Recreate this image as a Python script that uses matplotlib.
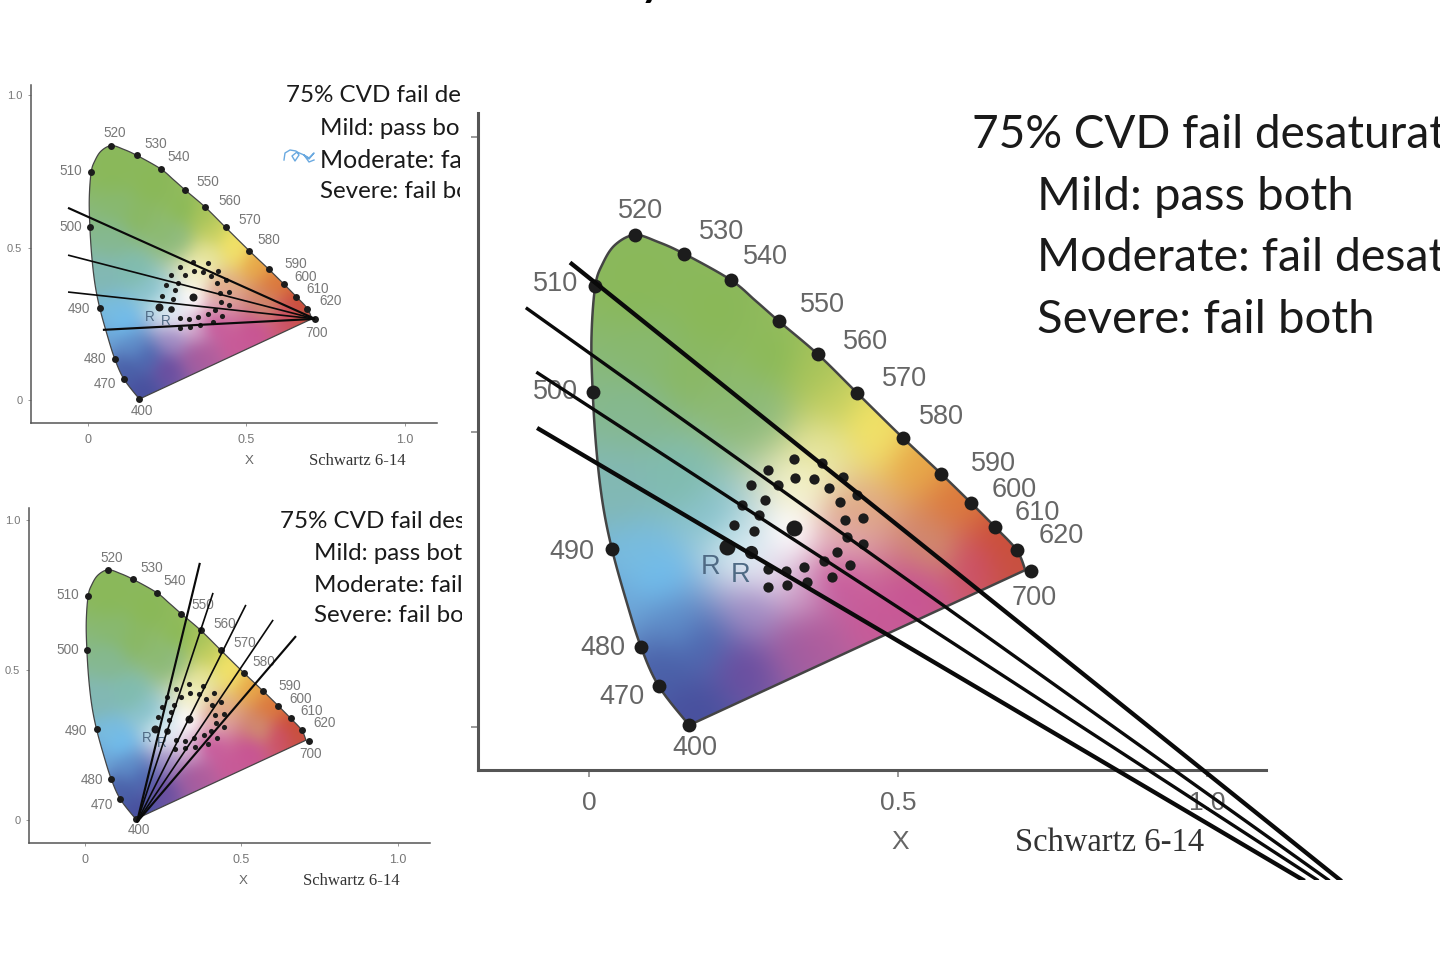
import numpy as np
import matplotlib
matplotlib.use("Agg")
import matplotlib.pyplot as plt
from matplotlib.lines import Line2D
from matplotlib.patches import Polygon
from matplotlib.transforms import Bbox

W, H = 1440, 961

# spectral locus, labelled wavelengths
wavelengths = ["400", "470", "480", "490", "500", "510", "520", "530", "540",
               "550", "560", "570", "580", "590", "600", "610", "620", "700"]
spectral_x = [.162, .113, .084, .037, .006, .010, .074, .154, .229,
              .307, .370, .434, .508, .570, .618, .657, .692, .716]
spectral_y = [.003, .069, .136, .302, .567, .747, .834, .802, .758,
              .688, .632, .566, .490, .429, .380, .339, .300, .264]
label_x = [.171, .053, .023, -.028, -.054, -.054, .084, .214, .286,
           .377, .447, .510, .571, .655, .688, .725, .764, .720]
label_y = [-.035, .051, .134, .297, .568, .751, .875, .839, .797,
           .716, .653, .589, .525, .446, .402, .363, .324, .219]

# gamut outline
outline_x = [.162, .113, .084, .060, .037, .022, .012, .006, .004, .010, .022, .042, .074, .112,
             .154, .229, .270, .307, .370, .434, .508, .570, .618, .657, .692, .706]
outline_y = [.003, .069, .136, .215, .302, .380, .470, .567, .660, .747, .785, .817, .834, .822,
             .802, .758, .722, .688, .632, .566, .490, .429, .380, .339, .300, .266]

# colour field samples
field_x = [.08, .20, .30, .15, .25, .10, .36, .40, .27, .08, .143, .08, .11, .143, .18, .25, .335,
           .46, .53, .27, .335, .17, .12, .45, .47, .38, .53, .60, .66, .69, .62, .33, .26, .30,
           .40, .35, .20, .23, .42, .05, .03, .56, .40, .36]
field_y = [.75, .70, .62, .60, .55, .62, .60, .55, .54, .54, .42, .29, .26, .17, .14, .10, .14,
           .18, .23, .20, .23, .03, .10, .52, .49, .47, .45, .38, .32, .28, .28, .33, .28, .25,
           .31, .41, .35, .32, .36, .40, .20, .30, .25, .15]
field_c = ["#8ab85a", "#8ab858", "#8cba58", "#8ab864", "#8cba70", "#88b870", "#a8c45a", "#c4cf60", "#8fbb80",
           "#85b890", "#80bcb0", "#78bce0", "#70bcec", "#5e8cc8", "#4e68b0", "#6a4ea0", "#a05ca0",
           "#c85a98", "#c85494", "#a08cc4", "#d0a0c8", "#48509e", "#4a60a8", "#f0e264", "#f2e06a", "#e6e49a",
           "#e8a848", "#dc7a3c", "#cc5038", "#c85040", "#cc5068", "#ffffff", "#e2eef6", "#e6d8ea",
           "#dfa8b8", "#f3f2c8", "#88c2cc", "#c4e2ea", "#e0a888", "#82b8b4", "#6ea6d8", "#d08a70", "#c8589a", "#b05c9c"]

# observer results
dots_x = [.332, .377, .290, .334, .364, .411, .262, .306, .388, .285, .434, .406, .247, .275, .415, .444,
          .234, .267, .418, .444, .402, .380, .423, .348, .290, .319, .393, .289, .321, .352]
dots_y = [.454, .448, .436, .422, .421, .423, .410, .410, .405, .385, .394, .382, .377, .360, .351, .355,
          .342, .332, .322, .311, .296, .282, .275, .272, .268, .265, .255, .237, .240, .245]
big_x = [.332, .223]
big_y = [.338, .305]
mid_x = [.262]
mid_y = [.297]
r_x = [.196, .246]
r_y = [.272, .258]

# confusion lines: (x0, y0, x1, y1)
main_lines = [(-.028, .785, 1.215, -.259), (-.100, .709, 1.196, -.259),
              (-.083, .600, 1.178, -.259), (-.081, .505, 1.155, -.259)]
top_lines = [(-.063, .630, .716, .266), (-.063, .475, .716, .266),
             (-.063, .354, .716, .266), (.047, .230, .716, .266)]
bottom_lines = [(.166, -.007, .367, .857), (.166, -.007, .409, .757), (.166, -.007, .514, .717),
                (.166, -.007, .601, .667), (.166, -.007, .674, .613)]

text_lines = ["75% CVD fail desaturated", "Mild: pass both", "Moderate: fail desaturated", "Severe: fail both"]

ink_x = [284, 285, 290, 296, 299, 295, 292, 297, 304, 309, 314, 309, 304, 309, 314]
ink_y = [160, 153, 150, 151, 155, 161, 156, 152, 155, 159, 153, 158, 155, 162, 160]


def blur(img, sigma):
    r = int(3 * sigma)
    k = np.exp(-np.arange(-r, r + 1) ** 2 / (2 * sigma ** 2))
    k /= k.sum()
    for axis in (0, 1):
        pad = [(r, r) if a == axis else (0, 0) for a in range(3)]
        img = np.apply_along_axis(lambda v: np.convolve(v, k, mode="valid"), axis, np.pad(img, pad, mode="edge"))
    return img


def gamut_image(res=300):
    gx = np.linspace(-.02, .74, res)
    gy = np.linspace(-.02, .86, res)
    xx, yy = np.meshgrid(gx, gy)
    fx, fy = np.array(field_x), np.array(field_y)
    rgb = np.array([matplotlib.colors.to_rgb(c) for c in field_c])
    d = (xx[..., None] - fx) ** 2 + (yy[..., None] - fy) ** 2
    w = 1 / (d + 1e-4) ** 2
    img = (w[..., None] * rgb).sum(axis=2) / w.sum(axis=2, keepdims=True)
    return blur(img, 8), (gx[0], gx[-1], gy[0], gy[-1])


def smooth(x, y, n=8):
    # Catmull-Rom through the outline points
    p = np.column_stack([x, y])
    p = np.vstack([p[0], p, p[-1]])
    out = []
    for i in range(1, len(p) - 2):
        for t in np.linspace(0, 1, n, endpoint=False):
            out.append(.5 * (2 * p[i] + (p[i + 1] - p[i - 1]) * t
                             + (2 * p[i - 1] - 5 * p[i] + 4 * p[i + 1] - p[i + 2]) * t ** 2
                             + (3 * p[i] - p[i - 1] - 3 * p[i + 1] + p[i + 2]) * t ** 3))
    out.append(p[-2])
    return np.array(out)


IMG, EXTENT = gamut_image()
OUTLINE = smooth(outline_x, outline_y)


def px_text(fig, x, y, s, **kw):
    return fig.text(x / W, 1 - y / H, s, **kw)


def panel(fig, left, right, top, bottom, x0, x1, y0, y1, lines, scale, yticklabels=True, cut=None):
    ax = fig.add_axes([left / W, 1 - bottom / H, (right - left) / W, (bottom - top) / H])
    ax.patch.set_alpha(0)
    ux = (x1 - x0)
    uy = (y0 - y1)
    ax.set_xlim((left - x0) / ux, (right - x0) / ux)
    ax.set_ylim((y0 - bottom) / uy, (y0 - top) / uy)

    im = ax.imshow(IMG, extent=EXTENT, origin="lower", aspect="auto", interpolation="bilinear", zorder=1)
    poly = Polygon(OUTLINE, closed=True, transform=ax.transData,
                   facecolor="none", edgecolor="#444444", linewidth=1.8 * scale, zorder=2)
    ax.add_patch(poly)
    im.set_clip_path(poly)

    ink = "#1c1c1c"
    ax.plot(spectral_x, spectral_y, "o", color=ink, ms=10 * scale, mew=0, zorder=3, clip_on=False)
    ax.plot(dots_x, dots_y, "o", color=ink, ms=7.4 * scale, mew=0, zorder=3)
    ax.plot(big_x, big_y, "o", color=ink, ms=11.5 * scale, mew=0, zorder=3)
    ax.plot(mid_x, mid_y, "o", color=ink, ms=9.5 * scale, mew=0, zorder=3)

    grey = "#666666" if scale == 1 else "#777777"
    for lx, ly, s in zip(label_x, label_y, wavelengths):
        ax.text(lx, ly, s, ha="center", va="center", color=grey, fontsize=19.5 * scale,
                family="Liberation Sans", zorder=4, clip_on=False)
    for lx, ly in zip(r_x, r_y):
        ax.text(lx, ly, "R", ha="center", va="center", color="#4f6a84", fontsize=19.5 * scale,
                family="Liberation Sans", zorder=4)

    for i, (a, b, c, d) in enumerate(lines):
        lw = 3.1 if i in (0, len(lines) - 1) else 2.4
        ln, = ax.plot([a, c], [b, d], color="#0a0a0a", lw=lw * scale, zorder=5, clip_on=False,
                      solid_capstyle="butt")
        if cut is not None:
            # flat lower end where the lines leave the slide image
            ln.set_solid_capstyle("projecting")
            ln.set_clip_on(True)
            ln.set_clip_box(Bbox([[0, H - cut], [W, H]]))

    for s in ("top", "right"):
        ax.spines[s].set_visible(False)
    for s in ("left", "bottom"):
        ax.spines[s].set_color("#555555")
        ax.spines[s].set_linewidth(2.2 * scale)
    ax.set_xticks([0, .5, 1], ["0", "0.5", "1.0"])
    ax.set_yticks([0, .5, 1], ["0", "0.5", "1.0"] if yticklabels else ["", "", ""])
    ax.tick_params(length=5 * scale, width=1.2 * scale, color="#888888", labelcolor=grey,
                   labelsize=19 if not yticklabels else 9, pad=10 if not yticklabels else 5.5)
    ax.tick_params(axis="y", labelsize=8, pad=5 * scale * 1.5, labelcolor="#777777")
    for t in ax.get_xticklabels() + ax.get_yticklabels():
        t.set_fontfamily("Liberation Sans")
    return ax


def slide_text(fig, x0, x1, ys, sizes, clip):
    for i, (s, y) in enumerate(zip(text_lines, ys)):
        t = px_text(fig, x0 if i == 0 else x1, y, s, fontsize=sizes[i], family="Lato", color="#1a1a1a",
                    va="center", ha="left")
        if clip is not None:
            t.set_clip_box(Bbox([[0, 0], [clip, H]]))
            t.set_clip_on(True)


fig = plt.figure(figsize=(W / 100, H / 100), dpi=100)

# heading runs off the top of the slide
px_text(fig, 637, -7, "y", fontsize=42, family="Lato", color="black", va="baseline", ha="left")

panel(fig, 31, 437, 85, 423, 88, 405, 400, 95, top_lines, .5)
panel(fig, 29, 430, 508, 843, 85, 398, 820, 520, bottom_lines, .5)
panel(fig, 478, 1266, 113, 770, 589, 1207, 727, 137, main_lines, 1, yticklabels=False, cut=880)

# axis captions
for x, y, xs, ys in [(249, 461, 357, 461), (243, 881, 351, 881)]:
    px_text(fig, x, y, "X", fontsize=9.6, color="#666666", family="Liberation Sans", ha="center", va="center")
    px_text(fig, xs, ys, "Schwartz 6-14", fontsize=12, color="#333333", family="Liberation Serif",
            ha="center", va="center")
px_text(fig, 900, 842, "X", fontsize=19, color="#666666", family="Liberation Sans", ha="center", va="center")
px_text(fig, 1110, 843, "Schwartz 6-14", fontsize=23.5, color="#333333", family="Liberation Serif",
        ha="center", va="center")

slide_text(fig, 286, 320, [95, 128, 160, 192], [17.4, 17.4, 18, 17.4], 460)
slide_text(fig, 280, 314, [521, 553, 585, 616], [17.4, 17.4, 17.4, 17.4], 462)
slide_text(fig, 972, 1037, [135, 197, 258, 320], [33, 34, 33.5, 34], None)

fig.add_artist(Line2D(np.array(ink_x) / W, 1 - np.array(ink_y) / H, color="#6aa9e0", lw=1))

fig.savefig("out.png", dpi=100)
